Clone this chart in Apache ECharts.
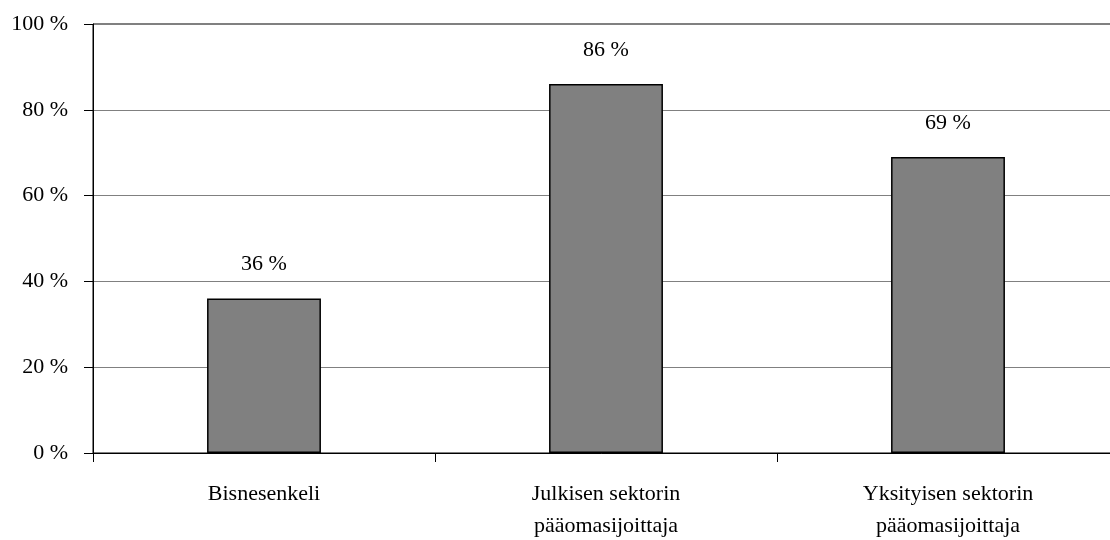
<!DOCTYPE html>
<html>
<head>
<meta charset="utf-8">
<script src="https://cdn.jsdelivr.net/npm/echarts@6/dist/echarts.min.js"></script>
<style>
html,body{margin:0;padding:0;background:#fff;}
#chart{width:1110px;height:540px;}
</style>
</head>
<body>
<div id="chart"></div>
<script>
const categories = ['Bisnesenkeli', 'Julkisen sektorin\npääomasijoittaja', 'Yksityisen sektorin\npääomasijoittaja'];
const values = [36, 86, 69];
const yTicks = [0, 20, 40, 60, 80, 100];

const font = 'Liberation Serif, Times New Roman, serif';
const chart = echarts.init(document.getElementById('chart'));
chart.setOption({
  animation: false,
  backgroundColor: '#fff',
  grid: {
    left: 93, top: 24, width: 1026, height: 429,
    outerBoundsMode: 'none',
    containLabel: false,
    show: true, borderColor: '#000', borderWidth: 1, backgroundColor: 'transparent'
  },
  xAxis: {
    type: 'category',
    data: categories,
    axisLine: { lineStyle: { color: '#000', width: 1 } },
    axisTick: { show: true, length: 9, lineStyle: { color: '#000' } },
    axisLabel: { color: '#000', fontFamily: font, fontSize: 22, lineHeight: 32, margin: 25 }
  },
  yAxis: {
    type: 'value',
    min: yTicks[0], max: yTicks[yTicks.length - 1], interval: 20,
    axisLine: { show: true, lineStyle: { color: '#000', width: 1 } },
    axisTick: { show: true, length: 9, lineStyle: { color: '#000' } },
    splitLine: { show: true, lineStyle: { color: '#808080', width: 1 } },
    axisLabel: { color: '#000', fontFamily: font, fontSize: 22, margin: 25, formatter: v => v + ' %' }
  },
  series: [{
    type: 'bar',
    data: values,
    barWidth: '33.3%',
    itemStyle: { color: '#808080', borderColor: '#000', borderWidth: 1.5 },
    label: {
      show: true, position: 'top', distance: 23,
      color: '#000', fontFamily: font, fontSize: 22,
      formatter: p => p.value + ' %'
    }
  }]
});
</script>
</body>
</html>
